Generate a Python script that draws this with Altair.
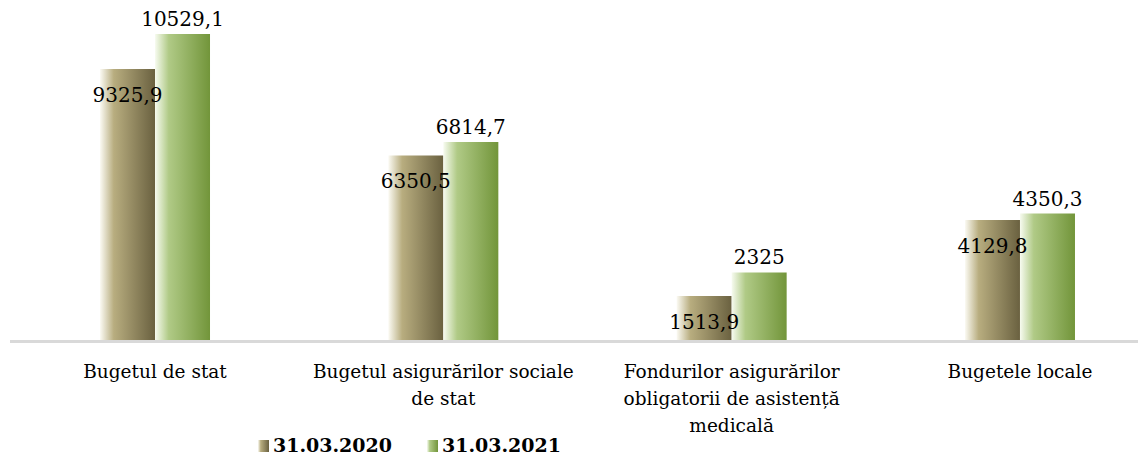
import altair as alt
import pandas as pd

categories = [
    "Bugetul de stat",
    "Bugetul asigurărilor sociale|de stat",
    "Fondurilor asigurărilor|obligatorii de asistență|medicală",
    "Bugetele locale",
]
series = ["31.03.2020", "31.03.2021"]
values_2020 = [9325.9, 6350.5, 1513.9, 4129.8]
values_2021 = [10529.1, 6814.7, 2325.0, 4350.3]

rows = []
for s, vals in zip(series, [values_2020, values_2021]):
    for c, v in zip(categories, vals):
        rows.append({"cat": c, "series": s, "value": v,
                     "label": f"{v:g}".replace(".", ",")})
df = pd.DataFrame(rows)
legend_df = pd.DataFrame({"series": series})

W, H = 1093, 324
FONT = "DejaVu Serif"


def grad(c0, c1, c2):
    return alt.Gradient(
        gradient="linear", x1=0, x2=1, y1=0, y2=0,
        stops=[alt.GradientStop(color=c0, offset=0),
               alt.GradientStop(color=c1, offset=0.25),
               alt.GradientStop(color=c2, offset=1)])


brown = grad("#fbfaf3", "#b8ad7f", "#6a6140")
green = grad("#f7fbf0", "#b0ca86", "#72953a")

x_axis = alt.X(
    "cat:N", sort=categories, title=None,
    scale=alt.Scale(paddingInner=0.6185, paddingOuter=0.2047),
    axis=alt.Axis(domain=False, ticks=False, labelAngle=0,
                  labelExpr="split(datum.label, '|')",
                  labelFont=FONT, labelFontSize=18.5, labelColor="#000000",
                  labelLimit=400, labelPadding=22, labelLineHeight=27),
)
xo = alt.XOffset("series:N", sort=series,
                 scale=alt.Scale(domain=series, paddingInner=0, paddingOuter=0))
y = alt.Y("value:Q", title=None, axis=None,
          scale=alt.Scale(domain=[0, 11149], nice=False, zero=True))

base = alt.Chart(df)

rule = alt.Chart(pd.DataFrame({"a": [0]})).mark_rule(
    color="#d9d9d9", strokeWidth=3
).encode(x=alt.value(-31), x2=alt.value(W + 4), y=alt.value(H + 1.5))

bars1 = base.transform_filter(alt.datum.series == series[0]).mark_bar(
    color=brown).encode(x=x_axis, xOffset=xo, y=y)
bars2 = base.transform_filter(alt.datum.series == series[1]).mark_bar(
    color=green).encode(x=x_axis, xOffset=xo, y=y)

txt1 = base.transform_filter(alt.datum.series == series[0]).mark_text(
    font=FONT, fontSize=20, color="#000000", dy=27, baseline="middle"
).encode(x=x_axis, xOffset=xo, y=y, text="label:N")
txt2 = base.transform_filter(alt.datum.series == series[1]).mark_text(
    font=FONT, fontSize=20, color="#000000", dy=-14, baseline="middle"
).encode(x=x_axis, xOffset=xo, y=y, text="label:N")

LY = H + 106
leg_sw1 = alt.Chart(legend_df).transform_filter(
    alt.datum.series == series[0]).mark_rect(color=brown).encode(
    x=alt.value(217), x2=alt.value(228), y=alt.value(LY - 6), y2=alt.value(LY + 6))
leg_sw2 = alt.Chart(legend_df).transform_filter(
    alt.datum.series == series[1]).mark_rect(color=green).encode(
    x=alt.value(386), x2=alt.value(397), y=alt.value(LY - 6), y2=alt.value(LY + 6))
leg_t1 = alt.Chart(legend_df).transform_filter(
    alt.datum.series == series[0]).mark_text(
    font=FONT, fontSize=19, fontWeight="bold", align="left", baseline="middle",
    color="#000000").encode(x=alt.value(232), y=alt.value(LY), text="series:N")
leg_t2 = alt.Chart(legend_df).transform_filter(
    alt.datum.series == series[1]).mark_text(
    font=FONT, fontSize=19, fontWeight="bold", align="left", baseline="middle",
    color="#000000").encode(x=alt.value(401), y=alt.value(LY), text="series:N")

chart = alt.layer(
    bars1, bars2, rule, txt1, txt2, leg_sw1, leg_sw2, leg_t1, leg_t2
).properties(
    width=W, height=H,
    autosize=alt.AutoSizeParams(type="none"),
    padding={"left": 33, "top": 8, "right": 4, "bottom": 122},
).configure(background="#ffffff").configure_view(stroke=None, strokeWidth=0)

chart.save("out.html", embed_options={"renderer": "svg", "actions": False})
